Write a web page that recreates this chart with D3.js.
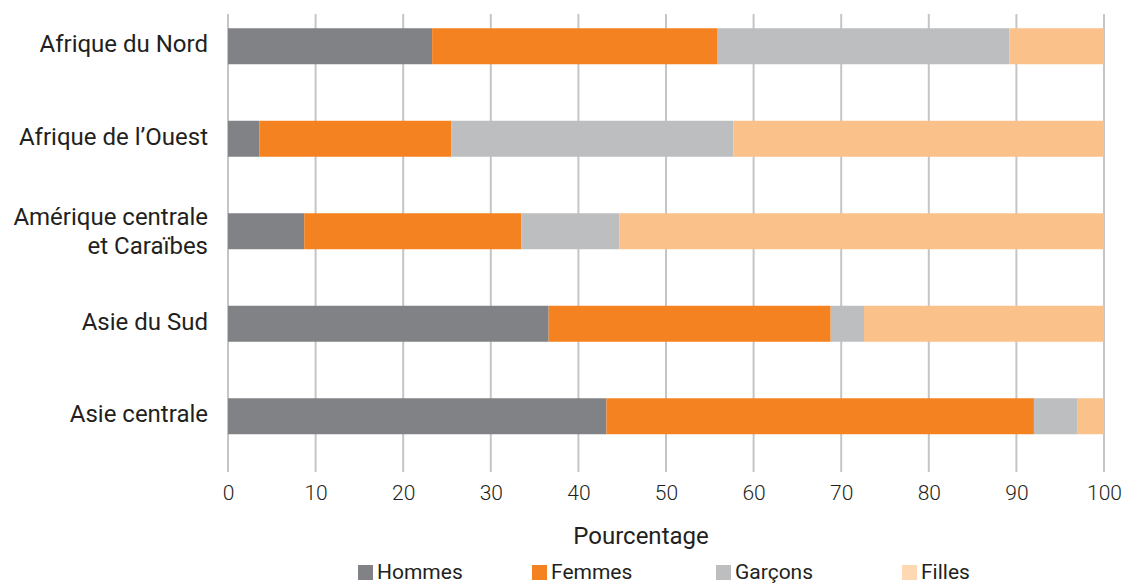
<!DOCTYPE html>
<html>
<head>
<meta charset="utf-8">
<script src="https://cdn.jsdelivr.net/npm/d3@7"></script>
<style>
  html, body { margin: 0; padding: 0; background: #ffffff; }
  svg { display: block; font-family: Roboto, "Noto Sans", sans-serif; }
</style>
</head>
<body>
<svg id="chart" width="1127" height="584"></svg>
<script>
// Regions (top to bottom), each label split into display lines
const regions = [
  ["Afrique du Nord"],
  ["Afrique de l’Ouest"],
  ["Amérique centrale", "et Caraïbes"],
  ["Asie du Sud"],
  ["Asie centrale"]
];
const seriesNames = ["Hommes", "Femmes", "Garçons", "Filles"];
// Share of each group, percent per region
const hommes  = [23.3, 3.6, 8.7, 36.6, 43.2];
const femmes  = [32.6, 21.9, 24.8, 32.2, 48.8];
const garcons = [33.3, 32.2, 11.2, 3.8, 5.0];
const filles  = [10.8, 42.3, 55.3, 27.4, 3.0];
const xTicks  = [0, 10, 20, 30, 40, 50, 60, 70, 80, 90, 100];
const colors  = ["#808285", "#f58220", "#bcbec0", "#fbc18a"];
const legendColors = ["#808285", "#f58220", "#bcbec0", "#fed8b3"];

const rows = regions.map((r, i) => ({
  key: r.join(" "),
  lines: r,
  Hommes: hommes[i], Femmes: femmes[i], "Garçons": garcons[i], Filles: filles[i]
}));

const svg = d3.select("#chart");
const x = d3.scaleLinear().domain([0, 100]).range([228, 1104]);
const y = d3.scaleBand().domain(rows.map(d => d.key)).range([0, 462.5])
  .paddingInner(0.61).paddingOuter(0.305);
const barH = 36;
const center = key => y(key) + y.bandwidth() / 2;

// vertical gridlines
svg.append("g").selectAll("line").data(xTicks).join("line")
  .attr("x1", d => x(d)).attr("x2", d => x(d))
  .attr("y1", 14).attr("y2", 472)
  .attr("stroke", "#c4c5c7").attr("stroke-width", 2);

// stacked bars
const layers = d3.stack().keys(seriesNames)(rows);
svg.append("g").selectAll("g").data(layers).join("g")
  .attr("fill", (d, i) => colors[i])
  .selectAll("rect").data(d => d).join("rect")
  .attr("x", d => x(d[0]))
  .attr("width", d => x(d[1]) - x(d[0]))
  .attr("y", d => center(d.data.key) - barH / 2)
  .attr("height", barH);

// category labels (single-line labels sit slightly above the bar centre)
const labels = svg.append("g").attr("font-size", 24).attr("fill", "#231f20")
  .attr("text-anchor", "end");
rows.forEach(r => {
  const c = center(r.key);
  const n = r.lines.length;
  const lh = 29;
  const lift = n === 1 ? -2.5 : 0;
  r.lines.forEach((line, j) => {
    labels.append("text")
      .attr("x", 208)
      .attr("y", c + (j - (n - 1) / 2) * lh + lift)
      .attr("dy", "0.35em")
      .text(line);
  });
});

// x axis tick labels
const xAxis = d3.axisBottom(x).tickValues(xTicks).tickSize(0).tickPadding(0);
const gx = svg.append("g").attr("transform", "translate(0,485)").call(xAxis);
gx.select(".domain").remove();
gx.selectAll("text")
  .attr("font-family", "Roboto, sans-serif")
  .attr("font-size", 21).attr("font-weight", 300)
  .attr("fill", "#231f20").attr("dy", "0.71em");

// axis title
svg.append("text")
  .attr("x", 641).attr("y", 544)
  .attr("text-anchor", "middle")
  .attr("font-size", 24).attr("fill", "#231f20")
  .text("Pourcentage");

// legend
const legendX = [358, 532, 716, 902];
const lg = svg.append("g");
seriesNames.forEach((name, i) => {
  lg.append("rect")
    .attr("x", legendX[i]).attr("y", 565)
    .attr("width", 15).attr("height", 15)
    .attr("fill", legendColors[i]);
  lg.append("text")
    .attr("x", legendX[i] + 19).attr("y", 579)
    .attr("font-size", 21).attr("fill", "#231f20")
    .text(name);
});
</script>
</body>
</html>
